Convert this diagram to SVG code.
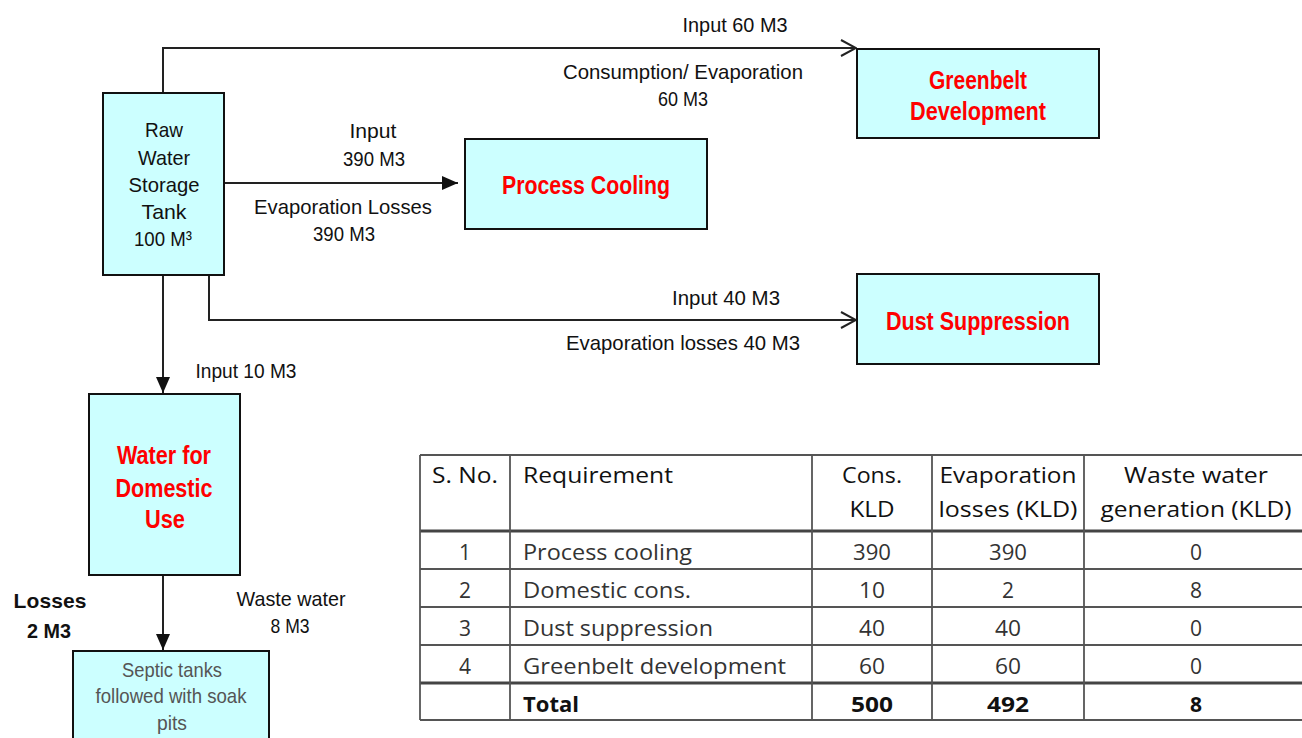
<svg xmlns="http://www.w3.org/2000/svg" width="1302" height="738" viewBox="0 0 1302 738">
<style>
.box{fill:#ccffff;stroke:#111;stroke-width:2}
.conn{fill:none;stroke:#222;stroke-width:2}
.lbl{font-family:"Liberation Sans",Arial,sans-serif;font-size:21px;fill:#111;text-anchor:middle}
.red{font-family:"Liberation Sans",Arial,sans-serif;font-size:25px;font-weight:bold;fill:#ff0000;text-anchor:middle}
.gray{font-family:"Liberation Sans",Arial,sans-serif;font-size:21px;fill:#555;text-anchor:middle}
.bold{font-family:"Liberation Sans",Arial,sans-serif;font-size:21px;font-weight:bold;fill:#111;text-anchor:middle}
.tl{stroke:#555;stroke-width:1.8}
.tk{stroke:#444;stroke-width:3}
.tt{font-family:"Open Sans","Liberation Sans",sans-serif;font-size:21px;fill:#333}
.th{font-family:"Open Sans","Liberation Sans",sans-serif;font-size:21px;fill:#111}
.tb{font-family:"Open Sans","Liberation Sans",sans-serif;font-size:21px;font-weight:bold;fill:#111}
.c{text-anchor:middle}
</style>
<defs>
<marker id="tri" viewBox="0 0 16 14" refX="16" refY="7" markerWidth="16" markerHeight="14" markerUnits="userSpaceOnUse" orient="auto">
<path d="M0,0 L16,7 L0,14 Z" fill="#111"/>
</marker>
<marker id="chev" viewBox="0 0 18 20" refX="17" refY="10" markerWidth="18" markerHeight="20" markerUnits="userSpaceOnUse" orient="auto">
<path d="M2,2 L17,10 L2,18" fill="none" stroke="#222" stroke-width="2"/>
</marker>
</defs>

<g id="connectors">
<path class="conn" d="M163,93 V48 H856" marker-end="url(#chev)"/>
<path class="conn" d="M224,183 H458" marker-end="url(#tri)"/>
<path class="conn" d="M209,275 V320 H856" marker-end="url(#chev)"/>
<path class="conn" d="M163,275 V393" marker-end="url(#tri)"/>
<path class="conn" d="M163,575 V650" marker-end="url(#tri)"/>
<text class="lbl" x="735" y="32" textLength="105" lengthAdjust="spacingAndGlyphs">Input  60 M3</text>
<text class="lbl" x="683" y="79" textLength="240" lengthAdjust="spacingAndGlyphs">Consumption/ Evaporation</text>
<text class="lbl" x="683" y="106" textLength="50" lengthAdjust="spacingAndGlyphs">60 M3</text>
<text class="lbl" x="373" y="138" textLength="47" lengthAdjust="spacingAndGlyphs">Input</text>
<text class="lbl" x="374" y="166" textLength="62" lengthAdjust="spacingAndGlyphs">390 M3</text>
<text class="lbl" x="343" y="214" textLength="178" lengthAdjust="spacingAndGlyphs">Evaporation Losses</text>
<text class="lbl" x="344" y="241" textLength="62" lengthAdjust="spacingAndGlyphs">390 M3</text>
<text class="lbl" x="726" y="305" textLength="108" lengthAdjust="spacingAndGlyphs">Input  40 M3</text>
<text class="lbl" x="683" y="350" textLength="234" lengthAdjust="spacingAndGlyphs">Evaporation losses  40 M3</text>
<text class="lbl" x="246" y="378" textLength="101" lengthAdjust="spacingAndGlyphs">Input 10 M3</text>
<text class="bold" x="50" y="608" textLength="73" lengthAdjust="spacing">Losses</text>
<text class="bold" x="49" y="638" textLength="44" lengthAdjust="spacingAndGlyphs">2 M3</text>
<text class="lbl" x="291" y="606" textLength="109" lengthAdjust="spacingAndGlyphs">Waste water</text>
<text class="lbl" x="290" y="633" textLength="39" lengthAdjust="spacingAndGlyphs">8 M3</text>
</g>

<g id="raw-water-tank">
<rect class="box" x="103" y="93" width="121" height="182"/>
<text class="lbl" x="164" y="137" textLength="38" lengthAdjust="spacingAndGlyphs">Raw</text>
<text class="lbl" x="164" y="165" textLength="52" lengthAdjust="spacingAndGlyphs">Water</text>
<text class="lbl" x="164" y="192" textLength="71" lengthAdjust="spacingAndGlyphs">Storage</text>
<text class="lbl" x="164" y="219" textLength="45" lengthAdjust="spacingAndGlyphs">Tank</text>
<text class="lbl" x="163" y="246" textLength="58" lengthAdjust="spacingAndGlyphs">100 M³</text>
</g>

<g id="greenbelt">
<rect class="box" x="857" y="49" width="242" height="89"/>
<text class="red" x="978" y="89" textLength="98" lengthAdjust="spacingAndGlyphs">Greenbelt</text>
<text class="red" x="978" y="120" textLength="136" lengthAdjust="spacingAndGlyphs">Development</text>
</g>

<g id="process-cooling">
<rect class="box" x="465" y="139" width="242" height="90"/>
<text class="red" x="586" y="194" textLength="168" lengthAdjust="spacingAndGlyphs">Process Cooling</text>
</g>

<g id="dust-suppression">
<rect class="box" x="857" y="274" width="242" height="90"/>
<text class="red" x="978" y="330" textLength="184" lengthAdjust="spacingAndGlyphs">Dust Suppression</text>
</g>

<g id="domestic-use">
<rect class="box" x="89" y="394" width="151" height="181"/>
<text class="red" x="164" y="464" textLength="94" lengthAdjust="spacingAndGlyphs">Water for</text>
<text class="red" x="164" y="497" textLength="97" lengthAdjust="spacingAndGlyphs">Domestic</text>
<text class="red" x="165" y="528" textLength="40" lengthAdjust="spacingAndGlyphs">Use</text>
</g>

<g id="septic-tanks">
<rect class="box" x="73" y="651" width="196" height="95"/>
<text class="gray" x="172" y="677" textLength="100" lengthAdjust="spacingAndGlyphs">Septic tanks</text>
<text class="gray" x="171" y="703" textLength="151" lengthAdjust="spacingAndGlyphs">followed with soak</text>
<text class="gray" x="172" y="730" textLength="30" lengthAdjust="spacingAndGlyphs">pits</text>
</g>

<g id="table">
<line class="tl" x1="420" y1="455" x2="1302" y2="455"/>
<line class="tk" x1="420" y1="531" x2="1302" y2="531"/>
<line class="tl" x1="420" y1="569" x2="1302" y2="569"/>
<line class="tl" x1="420" y1="607" x2="1302" y2="607"/>
<line class="tl" x1="420" y1="645" x2="1302" y2="645"/>
<line class="tk" x1="420" y1="683" x2="1302" y2="683"/>
<line class="tl" x1="420" y1="720" x2="1302" y2="720"/>
<line class="tl" x1="420" y1="455" x2="420" y2="720"/>
<line class="tl" x1="510" y1="455" x2="510" y2="720"/>
<line class="tl" x1="812" y1="455" x2="812" y2="720"/>
<line class="tl" x1="932" y1="455" x2="932" y2="720"/>
<line class="tl" x1="1084" y1="455" x2="1084" y2="720"/>

<text class="th c" x="465" y="483" textLength="66" lengthAdjust="spacingAndGlyphs">S. No.</text>
<text class="th" x="523" y="483" textLength="150" lengthAdjust="spacingAndGlyphs">Requirement</text>
<text class="th c" x="872" y="483" textLength="60" lengthAdjust="spacingAndGlyphs">Cons.</text>
<text class="th c" x="872" y="517" textLength="45" lengthAdjust="spacingAndGlyphs">KLD</text>
<text class="th c" x="1008" y="483" textLength="137" lengthAdjust="spacingAndGlyphs">Evaporation</text>
<text class="th c" x="1008" y="517" textLength="139" lengthAdjust="spacingAndGlyphs">losses (KLD)</text>
<text class="th c" x="1196" y="483" textLength="144" lengthAdjust="spacingAndGlyphs">Waste water</text>
<text class="th c" x="1196" y="517" textLength="191" lengthAdjust="spacingAndGlyphs">generation (KLD)</text>

<text class="tt c" x="465" y="560">1</text>
<text class="tt" x="523" y="560" textLength="169" lengthAdjust="spacingAndGlyphs">Process cooling</text>
<text class="tt c" x="872" y="560" textLength="38" lengthAdjust="spacingAndGlyphs">390</text>
<text class="tt c" x="1008" y="560" textLength="38" lengthAdjust="spacingAndGlyphs">390</text>
<text class="tt c" x="1196" y="560">0</text>

<text class="tt c" x="465" y="598">2</text>
<text class="tt" x="523" y="598" textLength="168" lengthAdjust="spacingAndGlyphs">Domestic cons.</text>
<text class="tt c" x="872" y="598" textLength="26" lengthAdjust="spacingAndGlyphs">10</text>
<text class="tt c" x="1008" y="598">2</text>
<text class="tt c" x="1196" y="598">8</text>

<text class="tt c" x="465" y="636">3</text>
<text class="tt" x="523" y="636" textLength="190" lengthAdjust="spacingAndGlyphs">Dust suppression</text>
<text class="tt c" x="872" y="636" textLength="26" lengthAdjust="spacingAndGlyphs">40</text>
<text class="tt c" x="1008" y="636" textLength="26" lengthAdjust="spacingAndGlyphs">40</text>
<text class="tt c" x="1196" y="636">0</text>

<text class="tt c" x="465" y="674">4</text>
<text class="tt" x="523" y="674" textLength="263" lengthAdjust="spacingAndGlyphs">Greenbelt development</text>
<text class="tt c" x="872" y="674" textLength="26" lengthAdjust="spacingAndGlyphs">60</text>
<text class="tt c" x="1008" y="674" textLength="26" lengthAdjust="spacingAndGlyphs">60</text>
<text class="tt c" x="1196" y="674">0</text>

<text class="tb" x="523" y="712" textLength="56" lengthAdjust="spacingAndGlyphs">Total</text>
<text class="tb c" x="872" y="712" textLength="42" lengthAdjust="spacingAndGlyphs">500</text>
<text class="tb c" x="1008" y="712" textLength="42" lengthAdjust="spacingAndGlyphs">492</text>
<text class="tb c" x="1196" y="712">8</text>
</g>
</svg>
